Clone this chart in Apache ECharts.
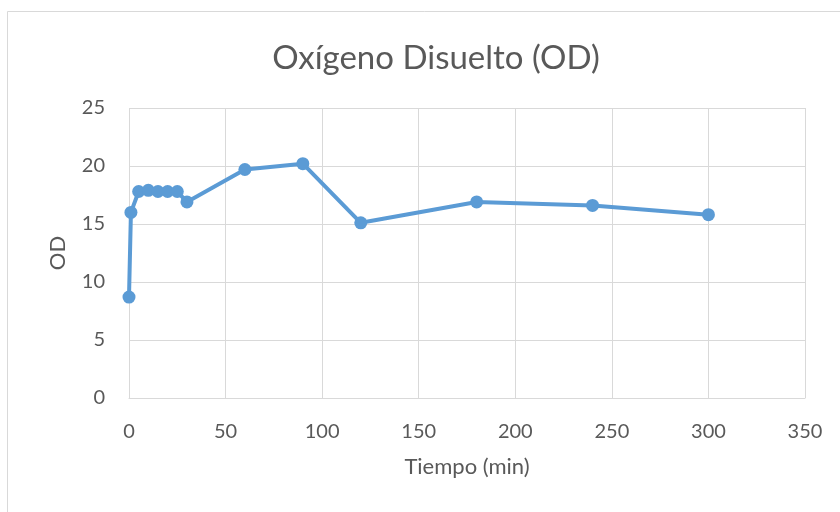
<!DOCTYPE html>
<html>
<head>
<meta charset="utf-8">
<script src="https://cdn.jsdelivr.net/npm/echarts@6/dist/echarts.min.js"></script>
<style>
html,body{margin:0;padding:0;background:#fff;}
#chart{width:840px;height:512px;}
</style>
</head>
<body>
<div id="chart"></div>
<script>
var titleText = "Oxígeno Disuelto (OD)";
var xAxisName = "Tiempo (min)";
var yAxisName = "OD";
var tiempo = [0, 1, 5, 10, 15, 20, 25, 30, 60, 90, 120, 180, 240, 300];
var od = [8.7, 16.0, 17.8, 17.9, 17.8, 17.8, 17.8, 16.9, 19.7, 20.2, 15.1, 16.9, 16.6, 15.8];

var pts = tiempo.map(function (t, i) { return [t, od[i]]; });
var FONT = "Lato";
var chart = echarts.init(document.getElementById('chart'), null, {renderer: 'canvas'});
chart.setOption({
  backgroundColor: '#fff',
  animation: false,
  graphic: [{
    type: 'rect', silent: true,
    shape: {x: 7.5, y: 11.5, width: 840, height: 520},
    style: {fill: 'none', stroke: '#d9d9d9', lineWidth: 1}
  }],
  title: {
    text: titleText, left: 431, top: 37, textAlign: 'center',
    textStyle: {fontFamily: FONT, fontSize: 33, fontWeight: 'normal', color: '#595959'}
  },
  grid: {left: 129, right: 35, top: 108, bottom: 114},
  xAxis: {
    type: 'value', min: 0, max: 350, interval: 50,
    name: xAxisName, nameLocation: 'middle', nameGap: 58,
    nameTextStyle: {fontFamily: FONT, fontSize: 22, color: '#595959'},
    axisLine: {show: true, lineStyle: {color: '#d9d9d9', width: 1}},
    axisTick: {show: false},
    axisLabel: {fontFamily: FONT, fontSize: 20, color: '#595959', margin: 24},
    splitLine: {show: true, lineStyle: {color: '#d9d9d9', width: 1}}
  },
  yAxis: {
    type: 'value', min: 0, max: 25, interval: 5,
    name: yAxisName, nameLocation: 'middle', nameGap: 60, nameRotate: 90,
    nameTextStyle: {fontFamily: FONT, fontSize: 22, color: '#595959'},
    axisLine: {show: false},
    axisTick: {show: false},
    axisLabel: {fontFamily: FONT, fontSize: 20, color: '#595959', margin: 24},
    splitLine: {show: true, lineStyle: {color: '#d9d9d9', width: 1}}
  },
  series: [{
    type: 'line', data: pts,
    symbol: 'circle', symbolSize: 13,
    lineStyle: {color: '#5b9bd5', width: 4},
    itemStyle: {color: '#5b9bd5'}
  }]
});
</script>
</body>
</html>
